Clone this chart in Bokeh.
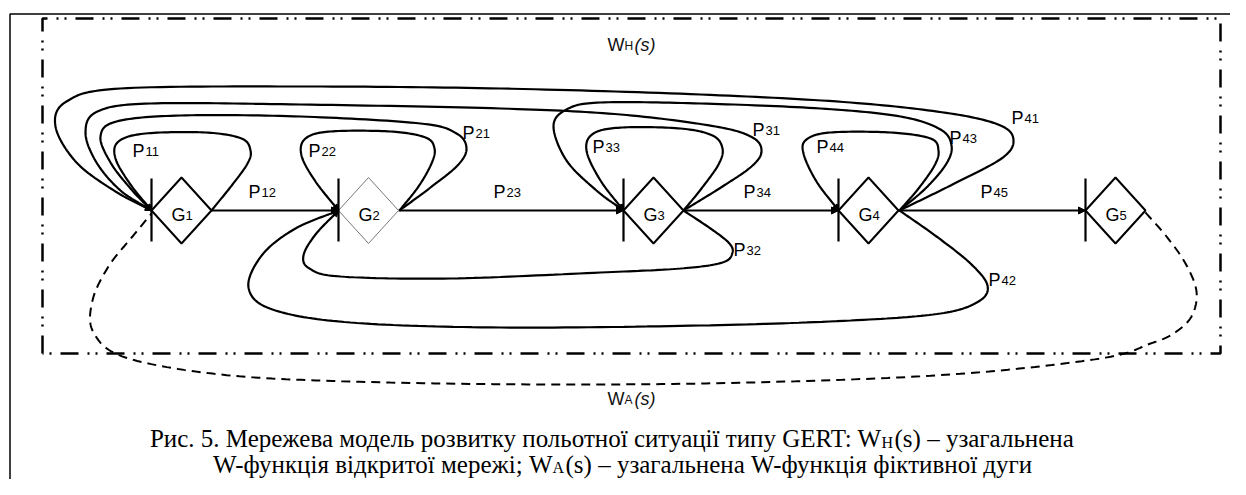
import numpy as np
from bokeh.plotting import figure
from bokeh.models import Range1d, Arrow, NormalHead
from bokeh.core.properties import value
from bokeh.embed import file_html
from bokeh.resources import INLINE

# ---------------- data ----------------
node_names = ["G", "G", "G", "G", "G"]
node_subs = ["1", "2", "3", "4", "5"]
node_x = [181, 368, 653, 868, 1115]
node_y = [210, 210, 210, 210, 210]
node_color = ["black", "#777777", "black", "black", "black"]
node_width = [2, 1, 2, 2, 2]
half_w = 30
half_h = 33

# arcs: waypoint lists (pixel space of the picture)
arc_P11 = [(211, 210), (232, 184), (247, 163), (250, 150), (241, 138), (205, 132),
           (145, 133), (118, 141), (115, 158), (130, 184), (151, 210)]
arc_P21 = [(399, 210), (430, 187), (457, 165), (466, 148), (456, 133), (420, 123),
           (300, 116), (180, 115), (116, 121), (100, 136), (110, 162), (130, 188), (151, 210)]
arc_P22 = [(399, 210), (418, 186), (431, 163), (434, 148), (425, 137), (390, 131),
           (330, 131), (305, 138), (301, 155), (315, 181), (338, 210)]
arc_P31 = [(683, 210), (722, 186), (751, 166), (761, 151), (752, 137), (715, 126),
           (620, 114), (500, 108), (300, 104), (150, 103), (97, 111), (85, 132),
           (96, 162), (120, 190), (151, 210)]
arc_P33 = [(683, 210), (701, 188), (718, 164), (722, 148), (712, 135), (680, 128),
           (622, 127), (593, 133), (586, 150), (600, 180), (623, 210)]
arc_P41 = [(899, 210), (952, 184), (1001, 158), (1013, 140), (1000, 125), (950, 113),
           (850, 102), (700, 94), (500, 88), (300, 86), (120, 88), (66, 101), (55, 126),
           (76, 162), (115, 191), (151, 210)]
arc_P43 = [(899, 210), (926, 187), (946, 163), (951, 145), (940, 129), (900, 116),
           (820, 108), (700, 103), (600, 102), (566, 109), (553, 126), (566, 160),
           (596, 190), (623, 210)]
arc_P44 = [(899, 210), (918, 188), (934, 165), (938, 150), (930, 138), (890, 132),
           (830, 132), (806, 139), (803, 153), (816, 181), (838, 210)]
arc_P32 = [(683, 210), (710, 228), (728, 242), (732, 252), (722, 262), (680, 268),
           (600, 272), (450, 278), (340, 276), (309, 268), (303, 255), (315, 234), (338, 210)]
arc_P42 = [(899, 210), (936, 236), (970, 263), (987, 285), (978, 301), (940, 313),
           (850, 320), (700, 325), (500, 327), (350, 322), (272, 309), (248, 287),
           (262, 254), (295, 228), (338, 210)]
arc_WA = [(1145, 212), (1166, 236), (1185, 263), (1196, 291), (1191, 316), (1173, 333),
          (1150, 343), (1100, 358), (950, 374), (750, 382), (550, 384), (350, 381),
          (220, 374), (125, 357), (93, 332), (92, 300), (108, 266), (132, 236), (151, 213)]

solid_arcs = [arc_P11, arc_P21, arc_P22, arc_P31, arc_P33, arc_P41, arc_P43,
              arc_P44, arc_P32, arc_P42]

arc_labels = ["P", "P", "P", "P", "P", "P", "P", "P", "P", "P", "P", "P", "P", "P"]
arc_label_subs = ["11", "12", "22", "21", "23", "33", "31", "34", "32", "44", "43", "41", "45", "42"]
arc_label_x = [132, 248, 308, 462, 493, 592, 752, 743, 733, 816, 949, 1011, 980, 988]
arc_label_y = [150, 191, 150, 132, 191, 146, 129, 191, 249, 146, 137, 117, 191, 279]

frame_x = [42, 42, 1220, 1220, 42]
frame_y = [353, 18, 18, 353, 353]

caption1_a = "Рис. 5. Мережева модель розвитку польотної ситуації типу GERT: W"
caption1_sub = "H"
caption1_b = "(s) – узагальнена"
caption2_a = "W-функція відкритої мережі; W"
caption2_sub = "A"
caption2_b = "(s) – узагальнена W-функція фіктивної дуги"


def smooth(pts, n=18):
    P = np.array(pts, float)
    P = np.vstack([2 * P[0] - P[1], P, 2 * P[-1] - P[-2]])
    out = []
    for i in range(1, len(P) - 2):
        p0, p1, p2, p3 = P[i - 1], P[i], P[i + 1], P[i + 2]
        for t in np.linspace(0, 1, n, endpoint=False):
            t2, t3 = t * t, t * t * t
            out.append(0.5 * ((2 * p1) + (-p0 + p2) * t + (2 * p0 - 5 * p1 + 4 * p2 - p3) * t2
                              + (-p0 + 3 * p1 - 3 * p2 + p3) * t3))
    out.append(P[-2])
    return np.array(out)


p = figure(width=1230, height=479, x_range=Range1d(0, 1230), y_range=Range1d(479, 0),
           output_backend="svg", toolbar_location=None, x_axis_type=None, y_axis_type=None,
           min_border=0, outline_line_color=None)
p.grid.visible = False
p.background_fill_color = "white"

# outer solid border (top and left)
p.line([9.5, 9.5, 1250], [500, 13.5, 13.5], line_color="black", line_width=1.5)

# dash-dot frame
p.line(frame_x, frame_y, line_color="black", line_width=2.5, line_dash="18 9 2 6 2 9")

# curves
xs, ys = [], []
for a in solid_arcs:
    c = smooth(a)
    xs.append(list(c[:, 0]))
    ys.append(list(c[:, 1]))
p.multi_line(xs, ys, line_color="black", line_width=2.2)

cw = smooth(arc_WA)
p.line(cw[:, 0], cw[:, 1], line_color="black", line_width=2, line_dash="9 6")

# horizontal arrows between nodes
for i in range(len(node_x) - 1):
    x0 = node_x[i] + half_w
    x1 = node_x[i + 1] - half_w
    p.line([x0, x1], [node_y[i], node_y[i + 1]], line_color="black", line_width=1.8)
    p.add_layout(Arrow(end=NormalHead(size=7, fill_color="black", line_color="black", line_width=1),
                       x_start=x1 - 10, y_start=node_y[i + 1], x_end=x1, y_end=node_y[i + 1],
                       line_alpha=0))

# arrowheads at the ends of returning curves
for a in solid_arcs:
    c = smooth(a)
    e = c[-1]
    s = c[-4]
    p.add_layout(Arrow(end=NormalHead(size=6, fill_color="black", line_color="black", line_width=1),
                       x_start=s[0], y_start=s[1], x_end=e[0], y_end=e[1], line_alpha=0))

# nodes (diamonds + bars)
for cx, cy, col, lw in zip(node_x, node_y, node_color, node_width):
    p.patch([cx - half_w, cx, cx + half_w, cx, cx - half_w],
            [cy, cy - half_h, cy, cy + half_h, cy],
            fill_color="white", line_color=col, line_width=lw)
    p.line([cx - half_w, cx - half_w], [cy - 32, cy + 31], line_color="black", line_width=2.2)

sans = value("Liberation Sans")
serif = value("Liberation Serif")

# node labels
gx = [x - 10 for x in node_x]
p.text(gx, [214] * 5, text=node_names, text_font=sans, text_font_size="18px",
       text_baseline="alphabetic", text_align="left", text_color="black")
p.text([x + 14 for x in gx], [215] * 5, text=node_subs, text_font=sans, text_font_size="13px",
       text_baseline="alphabetic", text_align="left", text_color="black")

# arc labels
p.text(arc_label_x, arc_label_y, text=arc_labels, text_font=sans, text_font_size="18px",
       text_baseline="alphabetic", text_align="left", text_color="black")
p.text([x + 13 for x in arc_label_x], [y + 1 for y in arc_label_y], text=arc_label_subs,
       text_font=sans, text_font_size="13px", text_baseline="alphabetic", text_align="left",
       text_color="black")

# W_H(s) and W_A(s)
for wx, wy, sub in [(607, 44, "H"), (607, 398, "A")]:
    p.text([wx], [wy], text=["W"], text_font=sans, text_font_size="18px",
           text_baseline="alphabetic", text_align="left", text_color="#111111")
    p.text([wx + 17], [wy + 1], text=[sub], text_font=sans, text_font_size="12px",
           text_baseline="alphabetic", text_align="left", text_color="#111111")
    p.text([wx + 27], [wy], text=["(s)"], text_font=sans, text_font_size="18px",
           text_font_style="italic", text_baseline="alphabetic", text_align="left",
           text_color="#111111")

# caption
c1y, c2y = 438, 464
p.text([881], [c1y], text=[caption1_a], text_font=serif, text_font_size="25px",
       text_baseline="alphabetic", text_align="right", text_color="black")
p.text([881], [c1y + 4], text=[caption1_sub], text_font=serif, text_font_size="16px",
       text_baseline="alphabetic", text_align="left", text_color="black")
p.text([894], [c1y], text=[caption1_b], text_font=serif, text_font_size="25px",
       text_baseline="alphabetic", text_align="left", text_color="black")
p.text([552], [c2y], text=[caption2_a], text_font=serif, text_font_size="25px",
       text_baseline="alphabetic", text_align="right", text_color="black")
p.text([552], [c2y + 3], text=[caption2_sub], text_font=serif, text_font_size="16px",
       text_baseline="alphabetic", text_align="left", text_color="black")
p.text([565], [c2y], text=[caption2_b], text_font=serif, text_font_size="25px",
       text_baseline="alphabetic", text_align="left", text_color="black")

open("out.html", "w").write(file_html(p, INLINE))
